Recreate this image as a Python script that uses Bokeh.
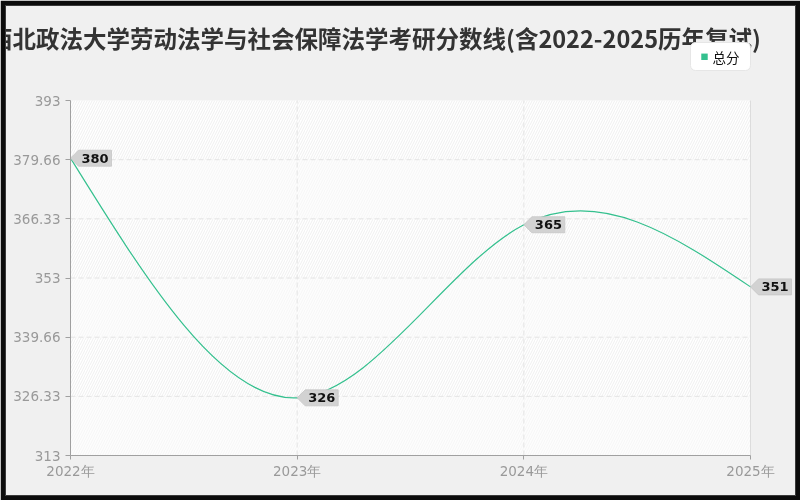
"""Bokeh recreation: 西北政法大学劳动法学与社会保障法学 score lines, 2022-2025."""

import numpy as np
from bokeh.core.properties import value
from bokeh.embed import file_html
from bokeh.models import BoxAnnotation, FixedTicker, Label, Range1d
from bokeh.plotting import figure
from bokeh.resources import INLINE

TITLE = "西北政法大学劳动法学与社会保障法学考研分数线(含2022-2025历年复试)"
SERIES = "总分"
years = [2022, 2023, 2024, 2025]
year_labels = ["2022年", "2023年", "2024年", "2025年"]
scores = [380, 326, 365, 351]
y_ticks = [313, 326.33, 339.66, 353, 366.33, 379.66, 393]
y_tick_labels = ["313", "326.33", "339.66", "353", "366.33", "379.66", "393"]

LINE_COLOR = "#34c08e"
AXIS_COLOR = "#a0a0a0"
LABEL_COLOR = "#999999"
GRID_COLOR = "#e4e4e4"
CJK = "Noto Sans CJK SC"
LATIN = "DejaVu Sans"

# The frame covers the whole card (5px dark edge around it); the plot area
# inside it sits at px 70..750 x 100..455 of the page.
W, H, EDGE = 800, 500, 5
PLOT_L, PLOT_R, PLOT_T, PLOT_B = 70, 750, 100, 455
PX_PER_YEAR = (PLOT_R - PLOT_L) / (years[-1] - years[0])
PX_PER_UNIT = (PLOT_B - PLOT_T) / (y_ticks[-1] - y_ticks[0])
x_start = years[0] - (PLOT_L - EDGE) / PX_PER_YEAR
x_end = years[-1] + (W - EDGE - PLOT_R) / PX_PER_YEAR
y_start = y_ticks[0] - (H - EDGE - PLOT_B) / PX_PER_UNIT
y_end = y_ticks[-1] + (PLOT_T - EDGE) / PX_PER_UNIT


def natural_slopes(xs, ys):
    """Slopes of the natural cubic spline through the points."""
    xs = np.asarray(xs, float)
    ys = np.asarray(ys, float)
    n = len(xs)
    h = np.diff(xs)
    a = np.zeros((n, n))
    b = np.zeros(n)
    a[0, 0] = a[-1, -1] = 1.0
    for i in range(1, n - 1):
        a[i, i - 1] = h[i - 1]
        a[i, i] = 2 * (h[i - 1] + h[i])
        a[i, i + 1] = h[i]
        b[i] = 6 * ((ys[i + 1] - ys[i]) / h[i] - (ys[i] - ys[i - 1]) / h[i - 1])
    m = np.linalg.solve(a, b)
    slopes = np.empty(n)
    for i in range(n - 1):
        slopes[i] = (ys[i + 1] - ys[i]) / h[i] - h[i] * (2 * m[i] + m[i + 1]) / 6
    slopes[-1] = (ys[-1] - ys[-2]) / h[-1] + h[-1] * (m[-2] + 2 * m[-1]) / 6
    return slopes


p = figure(
    width=W,
    height=H,
    x_range=Range1d(x_start, x_end),
    y_range=Range1d(y_start, y_end),
    output_backend="svg",
    toolbar_location=None,
    min_border=EDGE,
    background_fill_color="#f0f0f0",
    border_fill_color="#0c0c0c",
    outline_line_color="#3a3a3a",
)
p.styles = {"position": "fixed", "left": "0px", "top": "0px"}
p.grid.visible = False

# striped bands
for i in range(len(y_ticks) - 1):
    strong = i % 2 == 1
    p.add_layout(
        BoxAnnotation(
            left=years[0],
            right=years[-1],
            bottom=y_ticks[i],
            top=y_ticks[i + 1],
            fill_color="#ffffff" if strong else "#fdfdfd",
            fill_alpha=1.0,
            line_color=None,
            hatch_pattern="/",
            hatch_color="#efefef" if strong else "#f6f6f6",
            hatch_scale=5,
            hatch_weight=1,
            level="image",
        )
    )

# dashed grid inside the plot area, solid light line on the right edge
inner_y = y_ticks[1:-1]
p.segment(
    x0=[years[0]] * len(inner_y), x1=[years[-1]] * len(inner_y), y0=inner_y, y1=inner_y,
    line_color=GRID_COLOR, line_dash="5 3", line_width=1,
)
inner_x = years[1:-1]
p.segment(
    x0=inner_x, x1=inner_x, y0=[y_ticks[0]] * len(inner_x), y1=[y_ticks[-1]] * len(inner_x),
    line_color=GRID_COLOR, line_dash="5 3", line_width=1,
)
p.segment(
    x0=[years[-1]], x1=[years[-1]], y0=[y_ticks[0]], y1=[y_ticks[-1]],
    line_color="#dcdcdc", line_width=1,
)

# axes pinned to the plot area
p.xaxis.fixed_location = y_ticks[0]
p.yaxis.fixed_location = years[0]
p.xaxis.ticker = FixedTicker(ticks=years)
p.xaxis.major_label_overrides = dict(zip(years, year_labels))
p.xaxis.bounds = (years[0], years[-1])
p.yaxis.ticker = FixedTicker(ticks=y_ticks)
p.yaxis.major_label_overrides = dict(zip(y_ticks, y_tick_labels))
p.yaxis.bounds = (y_ticks[0], y_ticks[-1])
for ax in (p.xaxis, p.yaxis):
    ax.axis_line_color = AXIS_COLOR
    ax.major_tick_line_color = AXIS_COLOR
    ax.minor_tick_line_color = None
    ax.major_tick_in = 0
    ax.major_label_text_color = LABEL_COLOR
    ax.major_label_text_font = LATIN
    ax.major_label_text_font_size = "13.5px"
p.xaxis.major_tick_out = 4
p.xaxis.major_label_standoff = 3
p.yaxis.major_tick_out = 5
p.yaxis.major_label_standoff = 5

# smooth line: natural cubic spline as bezier segments
slopes = natural_slopes(years, scores)
x0, x1 = years[:-1], years[1:]
y0, y1 = scores[:-1], scores[1:]
dx = [(b - a) / 3 for a, b in zip(x0, x1)]
p.bezier(
    x0=x0, y0=y0, x1=x1, y1=y1,
    cx0=[a + d for a, d in zip(x0, dx)],
    cy0=[a + s * d for a, s, d in zip(y0, slopes[:-1], dx)],
    cx1=[b - d for b, d in zip(x1, dx)],
    cy1=[b - s * d for b, s, d in zip(y1, slopes[1:], dx)],
    line_color=LINE_COLOR, line_width=1.2,
)

# value tags: a grey box with an arrow pointing at the point
TIP, BOX_W, HALF_H = 8, 41, 8
tag_xs, tag_ys = [], []
for x, y in zip(years, scores):
    tx = [0, TIP, BOX_W, BOX_W, TIP]
    ty = [0, HALF_H, HALF_H, -HALF_H, -HALF_H]
    tag_xs.append([x + v / PX_PER_YEAR for v in tx])
    tag_ys.append([y + v / PX_PER_UNIT for v in ty])
p.patches(tag_xs, tag_ys, fill_color="#d2d2d2", line_color="#c6c6c6", line_width=0.8)
p.text(
    x=years, y=scores, text=[str(s) for s in scores],
    x_offset=11, text_baseline="middle", text_align="left",
    text_font=value(LATIN), text_font_style="bold", text_font_size="13px",
    text_color="#111111",
)

# title and legend, in px from the frame's bottom-left corner
p.add_layout(Label(
    x=-16.5, y=H - EDGE - 37, x_units="screen", y_units="screen", text=TITLE,
    text_font=CJK, text_font_style="bold", text_font_size="23.5px",
    text_color="#333333", text_baseline="middle",
))
p.add_layout(Label(
    x=685, y=H - EDGE - 56, x_units="screen", y_units="screen", text=SERIES,
    text_font=CJK, text_font_size="13.5px", text_color="#111111",
    text_baseline="middle",
    background_fill_color="white", border_line_color="#e6e6e6",
    padding=dict(left=22, right=11, top=4, bottom=4), border_radius=5,
))
p.add_layout(Label(
    x=695, y=H - EDGE - 56, x_units="screen", y_units="screen", text="■",
    text_font=CJK, text_font_size="8px", text_color=LINE_COLOR,
    text_baseline="middle",
))

open("out.html", "w").write(file_html(p, INLINE))
